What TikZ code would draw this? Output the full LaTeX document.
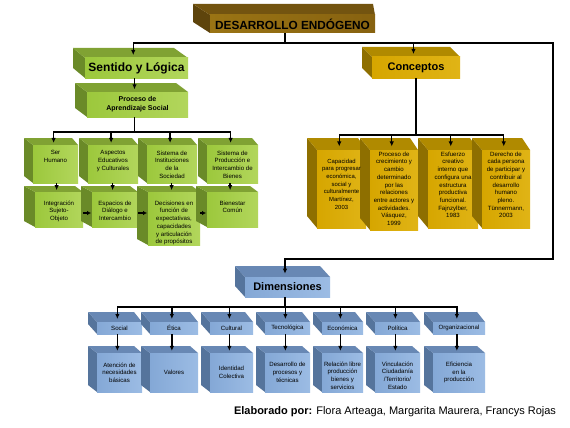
\documentclass[tikz,border=0pt]{standalone}
\usepackage{fontspec}
\setmainfont{Liberation Sans}
\usetikzlibrary{arrows.meta,calc}
\definecolor{dfront}{HTML}{9A7414}\definecolor{dfrontb}{HTML}{876210}\definecolor{dtop}{HTML}{735410}\definecolor{dleft}{HTML}{5E440C}
\definecolor{gfront}{HTML}{9CC83C}\definecolor{gfrontb}{HTML}{B2D65C}\definecolor{gtop}{HTML}{80A233}\definecolor{gleft}{HTML}{6A8A28}
\definecolor{yfront}{HTML}{D6A600}\definecolor{yfrontb}{HTML}{E0B416}\definecolor{ytop}{HTML}{B08A00}\definecolor{yleft}{HTML}{8E6F00}
\definecolor{bfront}{HTML}{84A8D6}\definecolor{bfrontb}{HTML}{9CBCE4}\definecolor{btop}{HTML}{6888B4}\definecolor{bleft}{HTML}{55749C}
\tikzset{
  cubeface/.style={inner sep=0pt, outer sep=0pt, anchor=north west},
  ln/.style={line width=1.3pt, black},
  arr/.style={ln, -{Latex[length=5pt,width=4.5pt]}},
  sarr/.style={line width=1.6pt, -{Latex[length=4pt,width=4.5pt]}},
  stxt/.style={font=\fontsize{6.1}{7.7}\selectfont, align=center, inner sep=0pt, anchor=north},
  ctxt/.style={font=\fontsize{6.1}{7.7}\selectfont, align=center, inner sep=0pt},
  htxt/.style={font=\bfseries\fontsize{11}{12}\selectfont, inner sep=0pt},
}
\newcommand\cubo[9]{%
  \fill[#6left] (#2,#3) -- ({#2-#7},{#3-#9}) -- ({#2-#7},{#5-#9}) -- (#2,#5) -- cycle;
  \fill[#6top] (#2,#3) -- ({#2-#7},{#3-#9}) -- ({#4-#8},{#3-#9}) -- (#4,#3) -- cycle;
  \node[cubeface, left color=#6front, right color=#6frontb, minimum width={(#4-#2)*1pt}, minimum height={(#5-#3)*1pt}] (#1) at (#2,#3) {};
  \coordinate (#1-t) at ({(#2+#4)/2-(#7+#8)/8},{#3-#9*0.3});
}
\begin{document}
\begin{tikzpicture}[x=1pt,y=-1pt]
\useasboundingbox[fill=white] (0,0) rectangle (570,428);
% top
\cubo{D}{210}{15}{375}{33}{d}{17}{2}{11}
\node[htxt, font=\bfseries\fontsize{11.8}{12}\selectfont] (Dx) at (D.center) {DESARROLLO ENDÓGENO};
% green
\cubo{S}{85}{58}{188}{78}{g}{12}{14}{10}
\node[htxt, font=\bfseries\fontsize{12}{13}\selectfont] (Sx) at (S.center) {Sentido y Lógica};
\cubo{P}{87}{92}{188}{117}{g}{12}{12}{9}
\node[ctxt, font=\bfseries\fontsize{7}{9}\selectfont] (Px) at (P.center) {Proceso de\\Aprendizaje Social};
\cubo{g1}{33}{145}{78}{183}{g}{9}{6}{7}
\cubo{g2}{88}{145}{138}{183}{g}{9}{6}{7}
\cubo{g3}{147}{145}{197}{183}{g}{9}{6}{7}
\cubo{g4}{207}{145}{258}{183}{g}{9}{6}{7}
\node[stxt] (g1x) at ($(g1.north)+(0,5.5)$) {Ser\\Humano};
\node[stxt] (g2x) at ($(g2.north)+(0,5.5)$) {Aspectos\\Educativos\\y Culturales};
\node[stxt] (g3x) at ($(g3.north)+(0,5.5)$) {Sistema de\\Instituciones\\de la\\Sociedad};
\node[stxt] (g4x) at ($(g4.north)+(0,5.5)$) {Sistema de\\Producción e\\Intercambio de\\Bienes};
\cubo{h1}{35}{192}{83}{227}{g}{11}{8}{6}
\cubo{h2}{92}{192}{138}{227}{g}{11}{8}{6}
\cubo{h3}{148}{192}{200}{245}{g}{11}{8}{6}
\cubo{h4}{207}{192}{258}{227}{g}{11}{8}{6}
\node[stxt] (h1x) at ($(h1.north)+(0,8.6)$) {Integración\\Sujeto-\\Objeto};
\node[stxt] (h2x) at ($(h2.north)+(0,8.6)$) {Espacios de\\Diálogo e\\Intercambio};
\node[stxt] (h3x) at ($(h3.north)+(0,8.6)$) {Decisiones en\\función de\\expectativas,\\capacidades\\y articulación\\de propósitos};
\node[stxt] (h4x) at ($(h4.north)+(0,8.6)$) {Bienestar\\Común};
% yellow
\cubo{C}{372}{57}{460}{78}{y}{10}{10}{10}
\node[htxt] (Cx) at (C.center) {Conceptos};
\cubo{c1}{317}{150}{366}{228}{y}{10}{8}{12}
\cubo{c2}{370}{150}{418}{230}{y}{10}{8}{12}
\cubo{c3}{428}{150}{478}{228}{y}{10}{8}{12}
\cubo{c4}{482}{150}{530}{228}{y}{10}{8}{12}
\node[stxt, font=\fontsize{5.9}{7.7}\selectfont] (c1x) at ($(c1.north)+(0,8.6)$) {Capacidad\\para progresar\\económica,\\social y\\culturalmente\\Martínez,\\2003};
\node[stxt] (c2x) at ($(c2.north)+(0,1.6)$) {Proceso de\\crecimiento y\\cambio\\determinado\\por las\\relaciones\\entre actores y\\actividades.\\Vásquez,\\1999};
\node[stxt] (c3x) at ($(c3.north)+(0,1.6)$) {Esfuerzo\\creativo\\interno que\\configura una\\estructura\\productiva\\funcional.\\Fajnzylber,\\1983};
\node[stxt] (c4x) at ($(c4.north)+(0,1.6)$) {Derecho de\\cada persona\\de participar y\\contribuir al\\desarrollo\\humano\\pleno.\\Tünnermann,\\2003};
% blue
\cubo{M}{245}{277}{330}{297}{b}{10}{10}{11}
\node[htxt] (Mx) at (M.center) {Dimensiones};
\cubo{b1}{97}{322}{142}{334}{b}{9}{8}{10}
\cubo{b2}{150}{322}{198}{334}{b}{9}{8}{10}
\cubo{b3}{210}{322}{253}{334}{b}{9}{8}{10}
\cubo{b4}{265}{322}{310}{334}{b}{9}{8}{10}
\cubo{b5}{322}{322}{363}{334}{b}{9}{8}{10}
\cubo{b6}{375}{322}{420}{334}{b}{9}{8}{10}
\cubo{b7}{433}{322}{485}{334}{b}{9}{8}{10}
\node[ctxt] (b1x) at (b1.center) {Social};
\node[ctxt] (b2x) at (b2.center) {Ética};
\node[ctxt] (b3x) at (b3.center) {Cultural};
\node[ctxt] (b4x) at (b4.center) {Tecnológica};
\node[ctxt] (b5x) at (b5.center) {Económica};
\node[ctxt] (b6x) at (b6.center) {Política};
\node[ctxt] (b7x) at (b7.center) {Organizacional};
\cubo{e1}{97}{353}{142}{392}{b}{9}{8}{7}
\cubo{e2}{150}{353}{198}{392}{b}{9}{8}{7}
\cubo{e3}{210}{353}{253}{392}{b}{9}{8}{7}
\cubo{e4}{265}{353}{310}{392}{b}{9}{8}{7}
\cubo{e5}{322}{353}{363}{392}{b}{9}{8}{7}
\cubo{e6}{375}{353}{420}{392}{b}{9}{8}{7}
\cubo{e7}{433}{353}{485}{392}{b}{9}{8}{7}
\node[ctxt] (e1x) at (e1.center) {Atención de\\necesidades\\básicas};
\node[ctxt] (e2x) at (e2.center) {Valores};
\node[ctxt] (e3x) at (e3.center) {Identidad\\Colectiva};
\node[ctxt] (e4x) at (e4.center) {Desarrollo de\\procesos y\\técnicas};
\node[ctxt] (e5x) at ($(e5.center)+(0,3)$) {Relación libre\\producción\\bienes y\\servicios};
\node[ctxt] (e6x) at ($(e6.center)+(0,3)$) {Vinculación\\Ciudadanía\\/Territorio/\\Estado};
\node[ctxt] (e7x) at (e7.center) {Eficiencia\\en la\\producción};
% connectors
\coordinate (j0) at (285,43);
\coordinate (jR) at (553,259);
\draw[ln] (D.south -| j0) -- (j0);
\draw[arr] (j0) -| (S-t);
\draw[arr] (j0) -| (C-t);
\draw[arr] (j0) -| (jR) -| (M-t);
\draw[arr] (S.south -| P-t) -- (P-t);
\coordinate (j1) at ($(P.south -| P-t)+(0,15)$);
\draw[ln] (P.south -| j1) -- (j1);
\foreach \k in {g1,g2,g3,g4} \draw[arr] (j1) -| (\k-t);
\foreach \a/\b in {g1/h1,g2/h2,g3/h3,g4/h4} \draw[arr] (\a.south -| \b-t) -- (\b-t);
\foreach \a/\b in {h1/h2,h2/h3,h3/h4} \draw[sarr] ($(\a.north east)+(0,21)$) -- ($(\b.north west)+(-1,21)$);
\coordinate (j2) at ($(C.south)+(0,57)$);
\draw[ln] (C.south) -- (j2);
\foreach \k in {c1,c2,c3,c4} \draw[arr] (j2) -| (\k-t);
\coordinate (j3) at ($(M.south -| M-t)+(0,10)$);
\draw[ln] (M.south -| j3) -- (j3);
\foreach \k in {b1,b2,b3,b4,b5,b6,b7} \draw[arr] (j3) -| (\k-t);
\foreach \k in {1,...,7} \draw[arr] (b\k.south -| e\k-t) -- (e\k-t);
% caption
\node[font=\fontsize{11}{13}\selectfont, inner sep=0pt] (cap) at (395,412) {\textbf{Elaborado por:} Flora Arteaga, Margarita Maurera, Francys Rojas};
\end{tikzpicture}
\end{document}
